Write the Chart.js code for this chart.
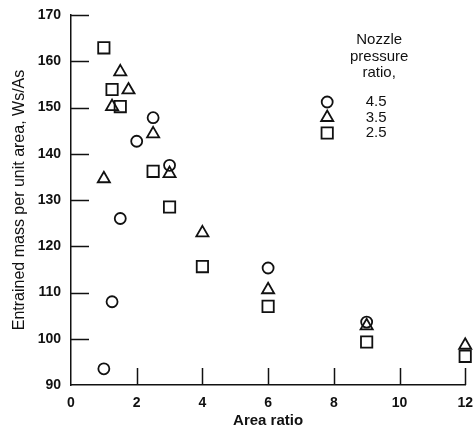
<!DOCTYPE html>
<html>
<head>
<meta charset="utf-8">
<script src="https://cdn.jsdelivr.net/npm/chart.js@4/dist/chart.umd.min.js"></script>
<style>
  html, body { margin: 0; padding: 0; background: #fff; }
  #wrap { width: 475px; height: 434px; }
</style>
</head>
<body>
<div id="wrap"><canvas id="chart"></canvas></div>
<script>
// Area ratio vs entrained mass, one series per nozzle pressure ratio.
const AREA_45 = [1, 1.25, 1.5, 2, 2.5, 3, 6, 9];
const MASS_45 = [93.5, 108, 126, 142.7, 147.8, 137.5, 115.3, 103.6];
const AREA_35 = [1, 1.25, 1.5, 1.75, 2.5, 3, 4, 6, 9, 12];
const MASS_35 = [134.6, 150.2, 157.7, 153.8, 144.3, 135.7, 122.9, 110.6, 102.8, 98.6];
const AREA_25 = [1, 1.25, 1.5, 2.5, 3, 4, 6, 9, 12];
const MASS_25 = [162.9, 153.9, 150.2, 136.2, 128.5, 115.6, 107, 99.3, 96.2];

const PRESSURE_LABELS = ["4.5", "3.5", "2.5"];
const LEGEND_TITLE = ["Nozzle", "pressure", "ratio,"];
const X_TICKS = [0, 2, 4, 6, 8, 10, 12];
const Y_TICKS = [90, 100, 110, 120, 130, 140, 150, 160, 170];

const INK = "#111";
const FONT = "'Liberation Sans', Arial, Helvetica, sans-serif";

const points = (xs, ys) => xs.map((x, i) => ({ x, y: ys[i] }));

const styles = [
  { pointStyle: "circle", radius: 5.5 },
  { pointStyle: "triangle", radius: 7 },
  { pointStyle: "rect", radius: 8 },
];

// Tick marks in the original point inward, into the plot.
const insideTicks = {
  id: "insideTicks",
  afterDraw(chart) {
    const { ctx, chartArea, scales: { x, y } } = chart;
    ctx.save();
    ctx.strokeStyle = INK;
    ctx.lineWidth = 1.5;
    ctx.beginPath();
    for (const t of y.ticks) {
      if (t.value === Y_TICKS[0]) continue;
      const py = Math.round(y.getPixelForValue(t.value)) + 0.5;
      ctx.moveTo(chartArea.left, py);
      ctx.lineTo(chartArea.left + 18, py);
    }
    for (const t of x.ticks) {
      if (t.value === X_TICKS[0]) continue;
      const px = Math.round(x.getPixelForValue(t.value)) + 0.5;
      ctx.moveTo(px, chartArea.bottom);
      ctx.lineTo(px, chartArea.bottom - 17);
    }
    ctx.stroke();
    ctx.restore();
  },
};

// Legend block sits inside the plot, upper right.
const pressureLegend = {
  id: "pressureLegend",
  afterDraw(chart) {
    const { ctx, chartArea } = chart;
    const cx = chartArea.right - 86;
    ctx.save();
    ctx.fillStyle = INK;
    ctx.font = `15px ${FONT}`;
    ctx.textAlign = "center";
    ctx.textBaseline = "middle";
    LEGEND_TITLE.forEach((line, i) => ctx.fillText(line, cx, chartArea.top + 25 + i * 16.5));
    PRESSURE_LABELS.forEach((label, i) => {
      const rowY = chartArea.top + 87 + i * 15.5;
      ctx.fillStyle = INK;
      ctx.fillText(label, cx - 3, rowY);
      ctx.strokeStyle = INK;
      ctx.fillStyle = "rgba(0,0,0,0)";
      ctx.lineWidth = 1.8;
      Chart.helpers.drawPoint(ctx, { ...styles[i], rotation: 0, borderWidth: 1.8 }, cx - 52, rowY);
    });
    ctx.restore();
  },
};

const datasets = [
  { label: PRESSURE_LABELS[0], data: points(AREA_45, MASS_45) },
  { label: PRESSURE_LABELS[1], data: points(AREA_35, MASS_35) },
  { label: PRESSURE_LABELS[2], data: points(AREA_25, MASS_25) },
].map((ds, i) => ({
  ...ds,
  pointStyle: styles[i].pointStyle,
  pointRadius: styles[i].radius,
  pointBorderWidth: 1.8,
  pointBorderColor: INK,
  pointBackgroundColor: "rgba(0,0,0,0)",
  clip: false,
}));

new Chart(document.getElementById("chart"), {
  type: "scatter",
  data: { datasets },
  plugins: [insideTicks, pressureLegend],
  options: {
    responsive: true,
    maintainAspectRatio: false,
    animation: false,
    layout: { padding: { top: 15, right: 9, left: 0, bottom: 0 } },
    plugins: { legend: { display: false }, tooltip: { enabled: false } },
    scales: {
      x: {
        type: "linear",
        min: X_TICKS[0],
        max: X_TICKS[X_TICKS.length - 1],
        afterBuildTicks: (scale) => { scale.ticks = X_TICKS.map((value) => ({ value })); },
        afterFit: (scale) => {
          scale.height = 49;
          // labels may overhang; keep the plot edge where the original has it
          scale.paddingLeft = 0;
          scale.paddingRight = 0;
        },
        grid: { display: true, drawOnChartArea: false, drawTicks: false },
        border: { display: true, color: INK, width: 1.5 },
        ticks: { color: INK, padding: 10, font: { family: FONT, size: 14, weight: "bold" } },
        title: {
          display: true,
          text: "Area ratio",
          color: INK,
          padding: { top: 0, bottom: 4 },
          font: { family: FONT, size: 15, weight: "bold" },
        },
      },
      y: {
        type: "linear",
        min: Y_TICKS[0],
        max: Y_TICKS[Y_TICKS.length - 1],
        afterBuildTicks: (scale) => { scale.ticks = Y_TICKS.map((value) => ({ value })); },
        afterFit: (scale) => {
          scale.width = 71;
          scale.paddingTop = 0;
          scale.paddingBottom = 0;
        },
        grid: { display: true, drawOnChartArea: false, drawTicks: false },
        border: { display: true, color: INK, width: 1.5 },
        ticks: { color: INK, padding: 10, font: { family: FONT, size: 14, weight: "bold" } },
        title: {
          display: true,
          text: "Entrained mass per unit area, Ws/As",
          color: INK,
          padding: { top: 10, bottom: 0 },
          font: { family: FONT, size: 16 },
        },
      },
    },
  },
});
</script>
</body>
</html>
